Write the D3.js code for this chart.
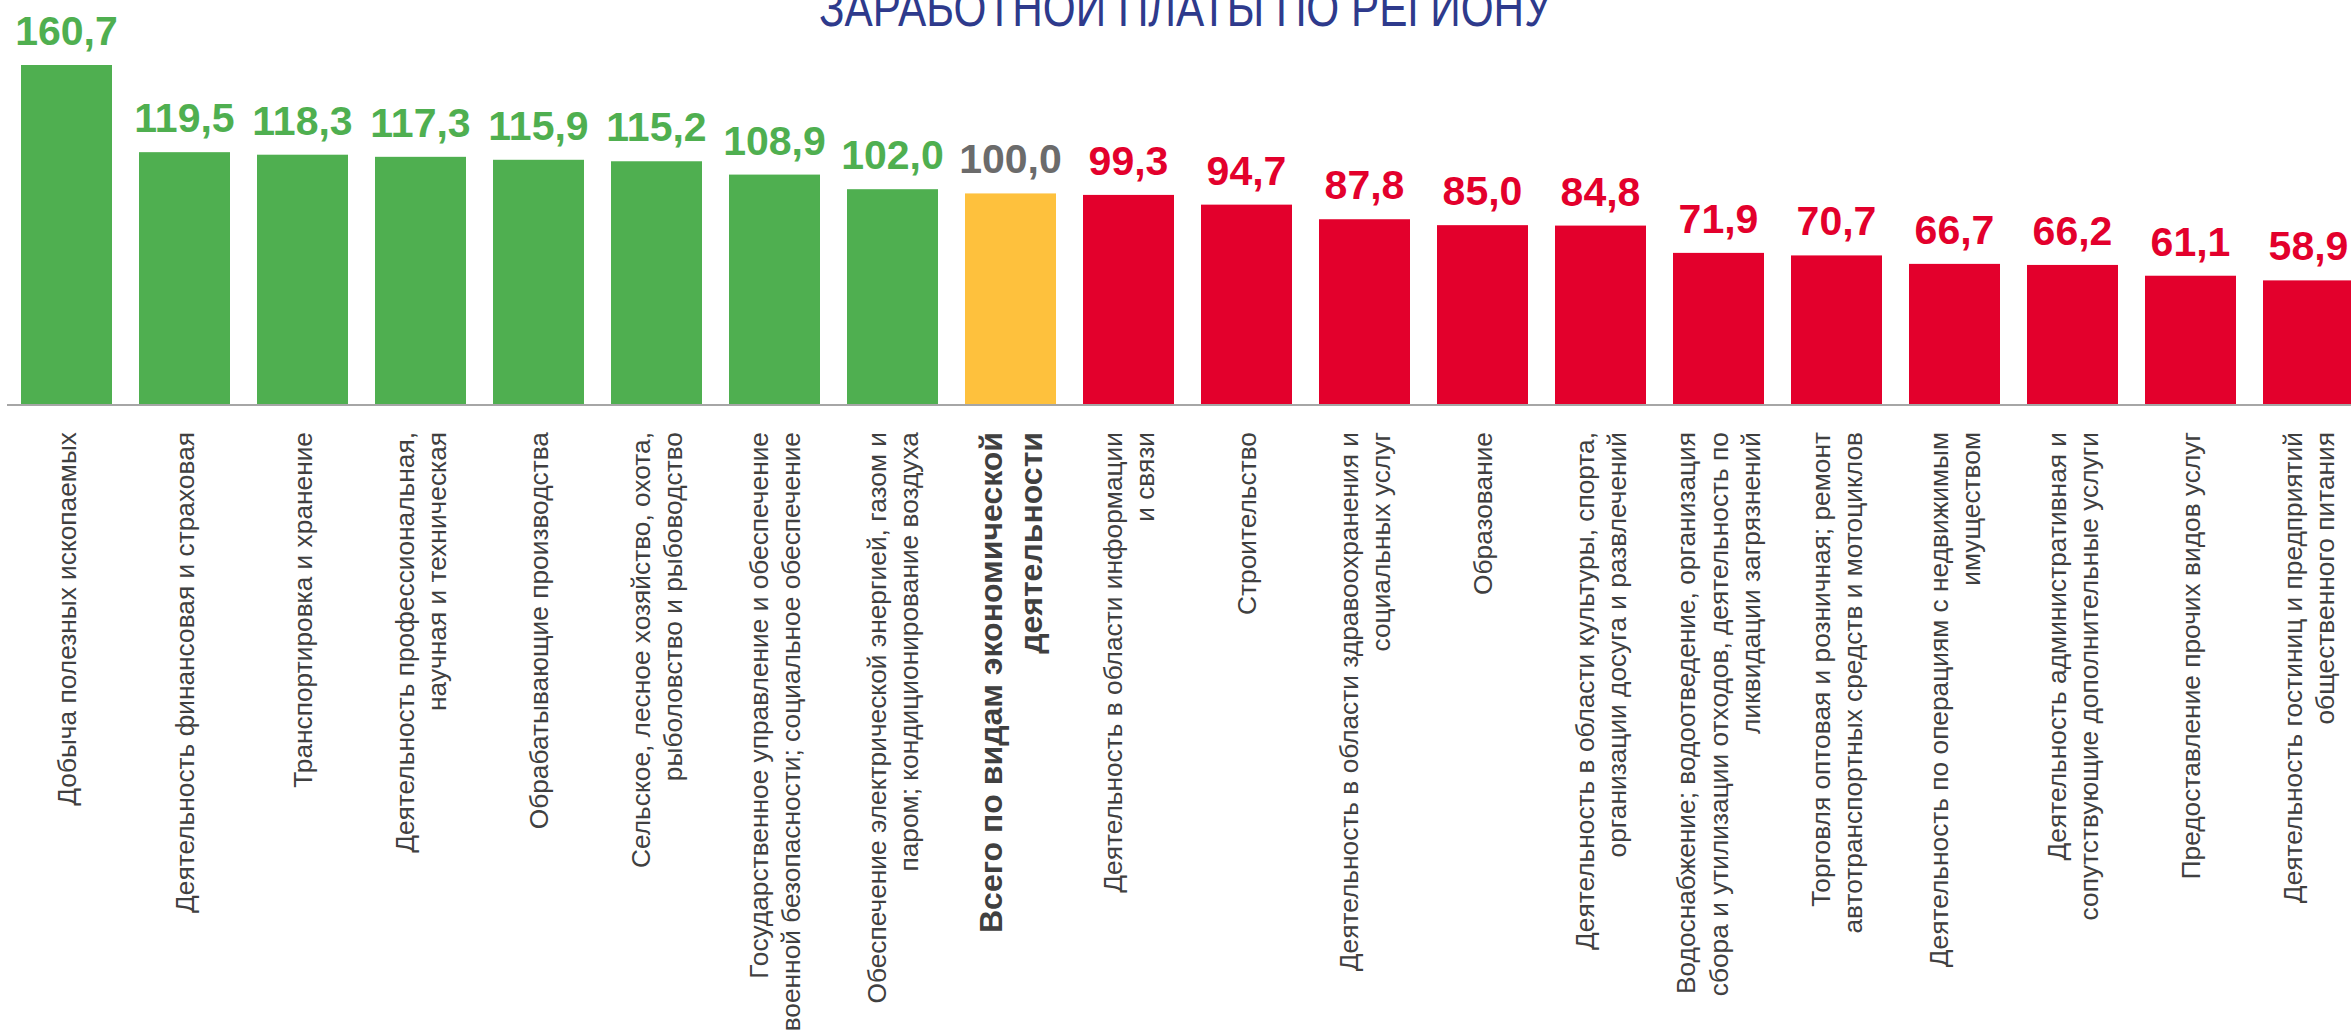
<!DOCTYPE html>
<html>
<head>
<meta charset="utf-8">
<script src="https://cdn.jsdelivr.net/npm/d3@7"></script>
<style>
  body { margin: 0; background: #fff; overflow: hidden; }
  svg { display: block; }
</style>
</head>
<body>
<svg id="chart"></svg>
<script>
const width = 2351
const height = 1036

// data
const categories = [
  'Добыча полезных ископаемых',
  'Деятельность финансовая и страховая',
  'Транспортировка и хранение',
  'Деятельность профессиональная,|научная и техническая',
  'Обрабатывающие производства',
  'Сельское, лесное хозяйство, охота,|рыболовство и рыбоводство',
  'Государственное управление и обеспечение|военной безопасности; социальное обеспечение',
  'Обеспечение электрической энергией, газом и|паром; кондиционирование воздуха',
  'Всего по видам экономической|деятельности',
  'Деятельность в области информации|и связи',
  'Строительство',
  'Деятельность в области здравоохранения и|социальных услуг',
  'Образование',
  'Деятельность в области культуры, спорта,|организации досуга и развлечений',
  'Водоснабжение; водоотведение, организация|сбора и утилизации отходов, деятельность по|ликвидации загрязнений',
  'Торговля оптовая и розничная; ремонт|автотранспортных средств и мотоциклов',
  'Деятельность по операциям с недвижимым|имуществом',
  'Деятельность административная и|сопутствующие дополнительные услуги',
  'Предоставление прочих видов услуг',
  'Деятельность гостиниц и предприятий|общественного питания'
]
const values = [160.7, 119.5, 118.3, 117.3, 115.9, 115.2, 108.9, 102.0, 100.0, 99.3,
                94.7, 87.8, 85.0, 84.8, 71.9, 70.7, 66.7, 66.2, 61.1, 58.9]
const totalCategory = 'Всего по видам экономической|деятельности'
const titleText = 'ЗАРАБОТНОЙ ПЛАТЫ ПО РЕГИОНУ'

const green = '#4faf50'
const red = '#e3002c'
const yellow = '#fec13d'
const gray = '#6b6b6b'

const baseline = 405
const barTop = 65

let svg = d3.select('#chart')
            .attr('width', width)
            .attr('height', height)

let xScale = d3.scaleBand()
               .domain(categories)
               .range([7.5, 7.5 + 20 * 118])
               .paddingInner(0.2288)
               .paddingOuter(0.1144)

let yScale = d3.scaleLinear()
               .domain([0, d3.max(values)])
               .range([baseline, barTop])

let barColor = (c, v) => c === totalCategory ? yellow : (v > 100 ? green : red)
let labelColor = (c, v) => c === totalCategory ? gray : (v > 100 ? green : red)

// title (second line, its top is cut by the frame)
svg.append('text')
   .text(titleText)
   .attr('x', 1185)
   .attr('y', 26)
   .attr('textLength', 732)
   .attr('lengthAdjust', 'spacingAndGlyphs')
   .style('text-anchor', 'middle')
   .style('font-family', '"Liberation Sans Narrow", "Arial Narrow", sans-serif')
   .style('font-size', 52)
   .style('fill', '#2e3a8c')

// bars
svg.append('g')
   .selectAll('rect')
   .data(categories)
   .join('rect')
   .attr('x', d => xScale(d))
   .attr('y', (d, i) => yScale(values[i]))
   .attr('width', xScale.bandwidth())
   .attr('height', (d, i) => baseline - yScale(values[i]))
   .style('fill', (d, i) => barColor(d, values[i]))

// axis line
let xAxis = svg.append('g')
               .attr('transform', `translate(0,${baseline})`)
               .call(d3.axisBottom(xScale).tickSize(0).tickFormat(''))
xAxis.select('.domain')
     .attr('d', `M7,0H${width}`)
     .style('stroke', '#a6a6a6')
     .style('stroke-width', 2)

// value labels
svg.append('g')
   .selectAll('text')
   .data(categories)
   .join('text')
   .text((d, i) => values[i].toFixed(1).replace('.', ','))
   .attr('x', d => xScale(d) + xScale.bandwidth() / 2)
   .attr('y', (d, i) => yScale(values[i]) - 20)
   .style('text-anchor', 'middle')
   .style('font-family', '"Liberation Sans", Arial, sans-serif')
   .style('font-weight', 'bold')
   .style('font-size', 41)
   .style('fill', (d, i) => labelColor(d, values[i]))

// category labels, rotated, right-aligned to the top
categories.forEach((c, i) => {
  const lines = c.split('|')
  const isTotal = c === totalCategory
  const fs = isTotal ? 32 : 26.3
  const lh = isTotal ? 40 : 32.5
  const cx = xScale(c) + xScale.bandwidth() / 2

  let g = svg.append('g')
             .attr('transform', `translate(${cx}, 432) rotate(-90)`)

  lines.forEach((line, k) => {
    g.append('text')
     .text(line)
     .attr('x', 0)
     .attr('y', (k - (lines.length - 1) / 2) * lh + fs * 0.36)
     .style('text-anchor', 'end')
     .style('font-family', '"Liberation Sans", Arial, sans-serif')
     .style('font-weight', isTotal ? 'bold' : 'normal')
     .style('font-size', fs)
     .style('fill', '#404040')
  })
})
</script>
</body>
</html>
